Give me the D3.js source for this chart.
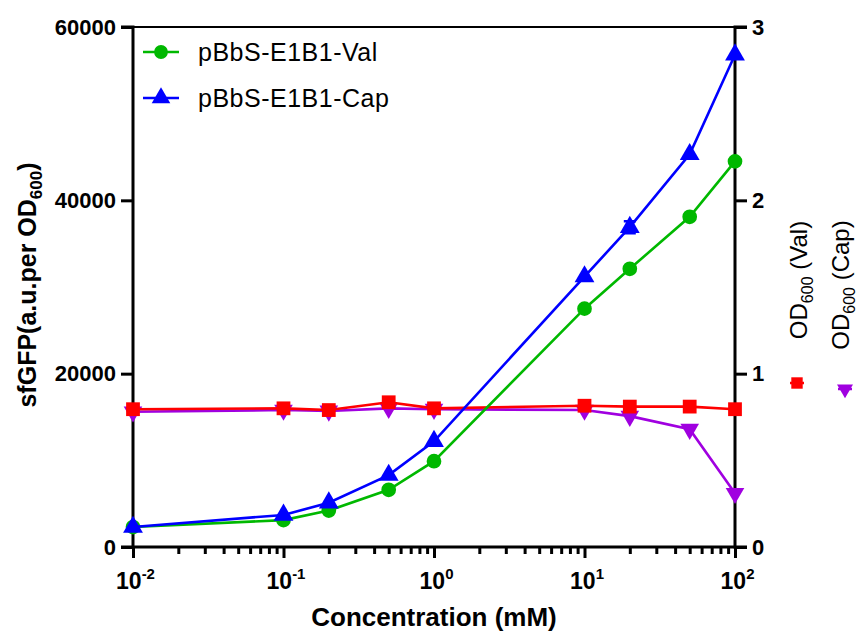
<!DOCTYPE html>
<html>
<head>
<meta charset="utf-8">
<script src="https://cdn.jsdelivr.net/npm/d3@7"></script>
<style>
  body { margin: 0; background: #fff; }
  svg text { font-family: "Liberation Sans", Arial, sans-serif; fill: #000; }
  .tick text { font-weight: bold; font-size: 22px; }
</style>
</head>
<body>
<div id="chart"></div>
<script>
// concentrations (mM)
const conc = [0.01, 0.1, 0.2, 0.5, 1, 10, 20, 50, 100]
// sfGFP (a.u. per OD600)
const gfpVal = [2300, 3100, 4200, 6600, 9900, 27500, 32100, 38100, 44500]
const gfpCap = [2300, 3700, 5100, 8300, 12200, 31200, 36900, 45300, 56800]
const gfpCapErr = [0, 0, 0, 0, 0, 0, 700, 0, 0]
// OD600
const odVal = [0.795, 0.8, 0.79, 0.835, 0.8, 0.815, 0.81, 0.81, 0.795]
const odCap = [0.78, 0.79, 0.785, 0.8, 0.795, 0.79, 0.755, 0.68, 0.31]

const leftTicks = [0, 20000, 40000, 60000]
const rightTicks = [0, 1, 2, 3]
const decades = [-2, -1, 0, 1, 2]

const W = 860, H = 632
const margin = {left: 133, right: 125, top: 27, bottom: 85}

const svg = d3.select('#chart').append('svg')
  .attr('width', W).attr('height', H)

const x = d3.scaleLog().domain([0.01, 100]).range([margin.left, W - margin.right])
const yL = d3.scaleLinear().domain([0, 60000]).range([H - margin.bottom, margin.top])
const yR = d3.scaleLinear().domain([0, 3]).range([H - margin.bottom, margin.top])

const x0 = x.range()[0], x1 = x.range()[1]
const yb = yL.range()[0], yt = yL.range()[1]

// top frame line
svg.append('line')
  .attr('x1', x0 - 12).attr('x2', x1 + 12)
  .attr('y1', yt).attr('y2', yt)
  .attr('stroke', '#000').attr('stroke-width', 2)

// left axis
let gl = svg.append('g').attr('transform', `translate(${x0},0)`)
  .call(d3.axisLeft(yL).tickValues(leftTicks).tickSize(12).tickPadding(5).tickFormat(d3.format('d')))
// right axis
let gr = svg.append('g').attr('transform', `translate(${x1},0)`)
  .call(d3.axisRight(yR).tickValues(rightTicks).tickSize(12).tickPadding(5).tickFormat(d3.format('d')))
// bottom axis: decades major, minor in between
let minor = []
decades.slice(0, -1).forEach(e => { for (let k = 2; k < 10; k++) minor.push(k * Math.pow(10, e)) })
let gbm = svg.append('g').attr('transform', `translate(0,${yb})`)
  .call(d3.axisBottom(x).tickValues(minor).tickSize(7).tickFormat(''))
let gb = svg.append('g').attr('transform', `translate(0,${yb})`)
  .call(d3.axisBottom(x).tickValues(decades.map(e => Math.pow(10, e))).tickSize(11).tickFormat(''))

gb.selectAll('.tick').append('text')
  .attr('y', 42).attr('x', 2).attr('text-anchor', 'middle')
  .style('font-size', '23px')
  .each(function(d) {
    let t = d3.select(this)
    t.append('tspan').text('10')
    t.append('tspan').attr('dy', -10).style('font-size', '15px').text(Math.round(Math.log10(d)))
  })

;[gl, gr, gb, gbm].forEach(g => {
  g.select('.domain').attr('stroke', '#000').attr('stroke-width', 3)
  g.selectAll('.tick line').attr('stroke', '#000').attr('stroke-width', 3)
})
gl.select('.domain').attr('d', `M-12,${yt}H0V${yb}H-12`)
gr.select('.domain').attr('d', `M12,${yt}H0V${yb}H12`)
gb.select('.domain').attr('d', `M${x0},0H${x1}`)
gbm.select('.domain').remove()

// axis titles
let lt = svg.append('text')
  .attr('transform', 'translate(36,285) rotate(-90)')
  .attr('text-anchor', 'middle')
  .style('font-weight', 'bold').style('font-size', '25px')
lt.append('tspan').text('sfGFP(a.u.per OD')
lt.append('tspan').attr('dy', 6).style('font-size', '17px').text('600')
lt.append('tspan').attr('dy', -6).text(')')

svg.append('text')
  .attr('x', (x0 + x1) / 2).attr('y', 626)
  .attr('text-anchor', 'middle')
  .style('font-weight', 'bold').style('font-size', '26px')
  .text('Concentration (mM)')

const rightTitles = [
  {label: ' (Val)', x: 807, cy: 280, color: '#ff0000', sym: d3.symbolSquare, sx: 797, sy: 383, rot: 0},
  {label: ' (Cap)', x: 849, cy: 285, color: '#a000e0', sym: d3.symbolTriangle, sx: 845, sy: 389, rot: 180}
]
rightTitles.forEach(r => {
  let t = svg.append('text')
    .attr('transform', `translate(${r.x},${r.cy}) rotate(-90)`)
    .attr('text-anchor', 'middle')
    .style('font-size', '24px')
  t.append('tspan').text('OD')
  t.append('tspan').attr('dy', 6).style('font-size', '16px').text('600')
  t.append('tspan').attr('dy', -6).text(r.label)
  svg.append('path')
    .attr('d', d3.symbol(r.sym, r.rot ? 110 : 130)())
    .attr('transform', `translate(${r.sx},${r.sy}) rotate(${r.rot})`)
    .attr('fill', r.color)
  svg.append('line').attr('x1', r.sx - 7).attr('x2', r.sx + 7)
    .attr('y1', r.sy).attr('y2', r.sy).attr('stroke', r.color).attr('stroke-width', 2.5)
})

// series
const series = [
  {name: 'OD Cap', vals: odCap, y: yR, color: '#a000e0', sym: d3.symbolTriangle, size: 150, rot: 180},
  {name: 'OD Val', vals: odVal, y: yR, color: '#ff0000', sym: d3.symbolSquare, size: 190, rot: 0},
  {name: 'pBbS-E1B1-Val', vals: gfpVal, y: yL, color: '#00b800', sym: d3.symbolCircle, size: 170, rot: 0},
  {name: 'pBbS-E1B1-Cap', vals: gfpCap, err: gfpCapErr, y: yL, color: '#0000ff', sym: d3.symbolTriangle, size: 170, rot: 0}
]

series.forEach(s => {
  let g = svg.append('g')
  let pts = conc.map((c, i) => [c, s.vals[i], s.err ? s.err[i] : 0])
  g.append('path')
    .attr('fill', 'none').attr('stroke', s.color).attr('stroke-width', 2.6)
    .attr('d', d3.line().x(d => x(d[0])).y(d => s.y(d[1]))(pts))
  pts.filter(d => d[2] > 0).forEach(d => {
    let px = x(d[0])
    g.append('path').attr('fill', 'none').attr('stroke', s.color).attr('stroke-width', 2.5)
      .attr('d', `M${px - 6},${s.y(d[1] + d[2])}H${px + 6}M${px},${s.y(d[1] + d[2])}V${s.y(d[1] - d[2])}M${px - 6},${s.y(d[1] - d[2])}H${px + 6}`)
  })
  g.selectAll('.m').data(pts).enter().append('path')
    .attr('d', d3.symbol(s.sym, s.size)())
    .attr('transform', d => `translate(${x(d[0])},${s.y(d[1])}) rotate(${s.rot})`)
    .attr('fill', s.color)
})

// legend
const legend = series.slice(2)
legend.forEach((s, i) => {
  let ly = 52 + i * 46
  let g = svg.append('g').attr('transform', `translate(143,${ly})`)
  g.append('line').attr('x1', 0).attr('x2', 36).attr('stroke', s.color).attr('stroke-width', 2.6)
  g.append('path').attr('d', d3.symbol(s.sym, 150)()).attr('transform', 'translate(18,0)').attr('fill', s.color)
  g.append('text').attr('x', 55).attr('y', 9).style('font-size', '25px')
    .style('letter-spacing', '0.5px').text(s.name)
})
</script>
</body>
</html>
